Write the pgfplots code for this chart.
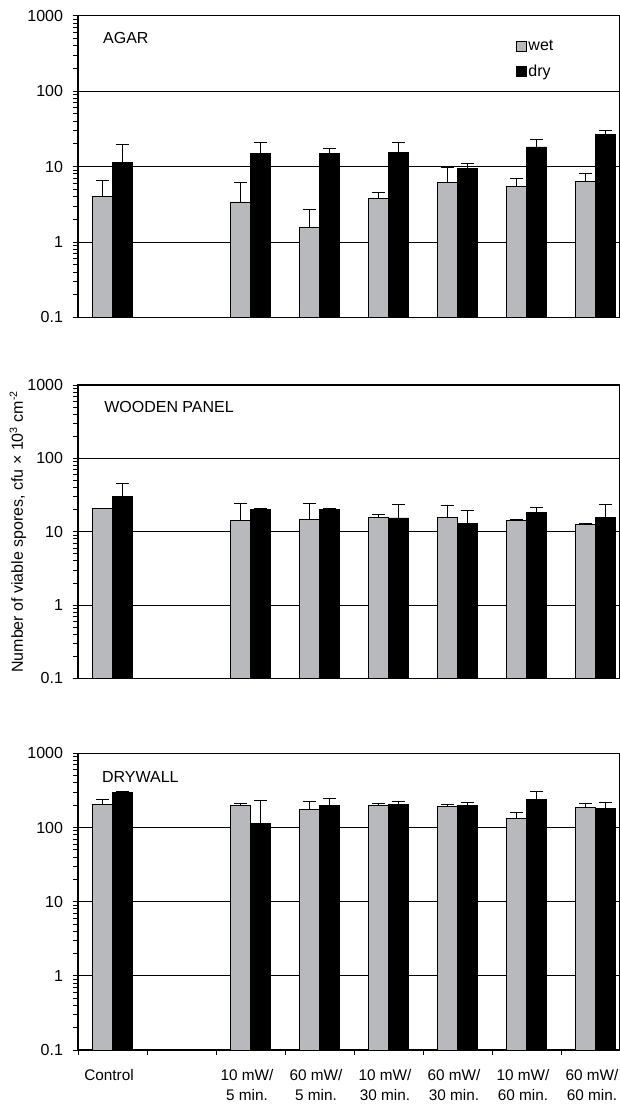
\documentclass[border=0pt]{standalone}
\usepackage{fontspec}
\setmainfont{Liberation Sans}
\usepackage{pgfplots}
\usepackage{pgfplotstable}
\pgfplotsset{compat=1.18}

\definecolor{wetgray}{RGB}{184,185,189}

% columns: slot, wet mean, wet +error, dry mean, dry +error
\pgfplotstableread{
x wet  wetE dry  dryE
0 4.0  2.5  11.3 8.1
2 3.4  2.7  15.1 5.7
3 1.54 1.13 15.1 2.4
4 3.76 0.72 15.3 5.5
5 6.1  3.7  9.5  1.4
6 5.4  1.5  18.2 4.6
7 6.3  1.8  26.9 3.5
}\agar

\pgfplotstableread{
x wet  wetE dry  dryE
0 20.6 0.4  30.3 15.8
2 14.1 10.2 20.2 0.3
3 14.7 9.4  20.2 0.3
4 15.5 1.7  15.4 8.2
5 15.8 7.3  12.9 6.4
6 14.3 0.6  18.5 3.0
7 12.6 0.3  15.8 7.6
}\wood

\pgfplotstableread{
x wet wetE dry dryE
0 205 37  295 8
2 199 13  113 117
3 174 49  199 46
4 199 13  203 22
5 193 15  199 17
6 134 24  240 70
7 187 25  179 39
}\drywall

\tikzset{tag/.style={anchor=west, inner sep=0pt, font=\fontsize{12}{14}\selectfont}}

% settings shared by the three panels
\pgfplotsset{
  scale only axis, width=406.5pt,
  xmin=-0.5, xmax=7.355,
  ymin=0.1, ymax=1000, log origin=infty,
  ytick pos=left, xtick pos=bottom, tick align=outside,
  major tick length=3.75pt, minor tick length=3.5pt,
  major grid style={black, line width=0.5pt},
  axis line style={black, line width=0.8pt},
  tick style={black, line width=0.6pt},
  yticklabel style={font=\fontsize{12}{15}\selectfont, xshift=-4pt},
  xticklabel style={font=\fontsize{11.5}{15}\selectfont},
  /pgf/number format/assume math mode=true,
}

\newcommand\barplot[3]{%
  \addplot[fill=#1, draw=black, line width=0.6pt,
    error bars/.cd, y dir=plus, y explicit,
    error bar style={black, line width=0.6pt},
    error mark options={rotate=90, black, mark size=5pt, line width=0.6pt}]
    table[x=x, y=#2, y error plus=#2E]{#3};}

\begin{document}
\begin{tikzpicture}
\useasboundingbox (0,0) rectangle (465pt,828.75pt);

% AGAR
\begin{axis}[ymode=log, ybar=0pt, bar width=15pt, ymajorgrids,
  ytick={0.1,1,10,100,1000}, yticklabels={0.1,1,10,100,1000},
  minor ytick={0.2,0.3,0.4,0.5,0.6,0.7,0.8,0.9,2,3,4,5,6,7,8,9,20,30,40,50,60,70,80,90,200,300,400,500,600,700,800,900},
  xtick=\empty,
  height=226.35pt, at={(58.5pt,590.625pt)}, anchor=south west,
  legend style={at={(axis description cs:0.808,0.925)}, anchor=north west,
    draw=none, fill=none, inner sep=0pt, row sep=7pt,
    font=\fontsize{12}{14}\selectfont,
    nodes={inner sep=1.2pt}},
  legend cell align=left,
  legend image code/.code={\draw[#1, draw=black, line width=0.5pt] (0pt,-3.4pt) rectangle (7.5pt,4.1pt);},
]
\barplot{wetgray}{wet}{\agar}
\barplot{black}{dry}{\agar}
\legend{wet, dry}
\node[tag] at (rel axis cs:0.046,0.926) {AGAR};
\end{axis}

% WOODEN PANEL
\begin{axis}[ymode=log, ybar=0pt, bar width=15pt, ymajorgrids,
  ytick={0.1,1,10,100,1000}, yticklabels={0.1,1,10,100,1000},
  minor ytick={0.2,0.3,0.4,0.5,0.6,0.7,0.8,0.9,2,3,4,5,6,7,8,9,20,30,40,50,60,70,80,90,200,300,400,500,600,700,800,900},
  xtick=\empty,
  height=220pt, at={(58.5pt,320pt)}, anchor=south west,
  ylabel={Number of viable spores, cfu × 10\textsuperscript{3} cm\textsuperscript{-2}},
  every axis y label/.style={at={(axis description cs:-0.111,0.5)}, rotate=90, anchor=center,
    font=\fontsize{12}{14}\selectfont},
]
\barplot{wetgray}{wet}{\wood}
\barplot{black}{dry}{\wood}
\node[tag] at (rel axis cs:0.048,0.926) {WOODEN PANEL};
\end{axis}

% DRYWALL
\begin{axis}[ymode=log, ybar=0pt, bar width=15pt, ymajorgrids,
  ytick={0.1,1,10,100,1000}, yticklabels={0.1,1,10,100,1000},
  minor ytick={0.2,0.3,0.4,0.5,0.6,0.7,0.8,0.9,2,3,4,5,6,7,8,9,20,30,40,50,60,70,80,90,200,300,400,500,600,700,800,900},
  height=222.5pt, at={(58.5pt,41.25pt)}, anchor=south west,
  xtick={-0.5,0.5,1.5,2.5,3.5,4.5,5.5,6.5}, xticklabels={},
  extra x ticks={0,2,3,4,5,6,7},
  extra x tick labels={Control,{10 mW/\\5 min.},{60 mW/\\5 min.},{10 mW/\\30 min.},{60 mW/\\30 min.},{10 mW/\\60 min.},{60 mW/\\60 min.}},
  extra x tick style={major tick length=0pt,
    tick label style={align=center, yshift=-11pt, xshift=-2.6pt}},
]
\barplot{wetgray}{wet}{\drywall}
\barplot{black}{dry}{\drywall}
\node[tag] at (rel axis cs:0.044,0.921) {DRYWALL};
\end{axis}
\end{tikzpicture}
\end{document}
